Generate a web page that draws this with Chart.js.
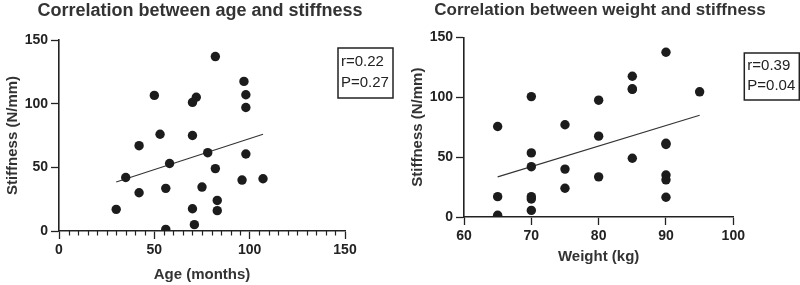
<!DOCTYPE html>
<html>
<head>
<meta charset="utf-8">
<script src="https://cdn.jsdelivr.net/npm/chart.js@4/dist/chart.umd.min.js"></script>
<style>
  html, body { margin: 0; padding: 0; background: #fff; }
  .wrap { display: flex; width: 800px; height: 285px; }
  .cell { width: 400px; height: 285px; }
</style>
</head>
<body>
<div class="wrap">
  <div class="cell"><canvas id="ageChart" width="400" height="285"></canvas></div>
  <div class="cell"><canvas id="weightChart" width="400" height="285"></canvas></div>
</div>
<script>
// ─── DONNÉES ─────────────────────────────────────────────────────────────
// âge (mois) / raideur (N/mm)
const ageMonths = [30, 35, 42, 42, 50, 53, 58, 56, 56, 70, 72, 70, 70, 71, 75, 78, 82, 82, 83, 83, 97, 98, 98, 98, 96, 107];
const ageStiff  = [17, 42, 67, 30, 106.5, 76, 53, 33.5, 1.3, 101, 105, 75, 17.5, 5, 34.5, 61.5, 137, 49, 24, 16, 117.5, 107, 97, 60.5, 40, 41];
const ageFitX   = [30, 107];
const ageFitY   = [38.5, 76];

// poids (kg) / raideur (N/mm)
const weightKg    = [65, 65, 65, 70, 70, 70, 70, 70, 70, 75, 75, 75, 80, 80, 80, 85, 85, 85, 85, 90, 90, 90, 90, 90, 90, 95];
const weightStiff = [75.5, 17, 1.5, 100.5, 53.5, 42, 17, 15, 5.5, 77, 40, 24, 97.5, 67.5, 33.5, 117.5, 107, 106.5, 49, 137.5, 61.5, 60.5, 35, 31, 16.5, 104.5];
const weightFitX  = [65, 95];
const weightFitY  = [33.5, 85];

const stiffTicks  = [0, 50, 100, 150];
const ageTicks    = [0, 50, 100, 150];
const weightTicks = [60, 70, 80, 90, 100];

const ageStats    = ['r=0.22', 'P=0.27'];
const weightStats = ['r=0.39', 'P=0.04'];

// ─── STYLE ───────────────────────────────────────────────────────────────
const INK = '#222';
const FONT = "'Liberation Sans', Arial, Helvetica, sans-serif";
Chart.defaults.font.family = FONT;
Chart.defaults.color = INK;

const pts = (xs, ys) => xs.map((x, i) => ({ x, y: ys[i] }));

// petites graduations (axe des âges)
const minorTicks = {
    id: 'minorTicks',
    afterDraw(chart, args, opts) {
        if (!opts.step) return;
        const sx = chart.scales.x, c = chart.ctx;
        const y0 = chart.chartArea.bottom;
        c.save();
        c.strokeStyle = INK;
        c.lineWidth = 1.2;
        for (let v = sx.min; v <= sx.max; v += opts.step) {
            if (v % opts.major === 0) continue;
            const px = Math.round(sx.getPixelForValue(v)) + 0.5;
            c.beginPath();
            c.moveTo(px, y0);
            c.lineTo(px, y0 + 4.5);
            c.stroke();
        }
        c.restore();
    }
};

// encadré r / P
const statsBox = {
    id: 'statsBox',
    afterDraw(chart, args, opts) {
        if (!opts.lines) return;
        const c = chart.ctx, ca = chart.chartArea;
        const x = ca.right + opts.dx, y = opts.y;
        c.save();
        c.strokeStyle = INK;
        c.lineWidth = 1.5;
        c.strokeRect(x, y, opts.w, opts.h);
        c.fillStyle = INK;
        c.font = '15px ' + FONT;
        c.textBaseline = 'middle';
        opts.lines.forEach((t, i) => c.fillText(t, x + 3, y + opts.h * (i === 0 ? 0.28 : 0.7)));
        c.restore();
    }
};

function makeChart(id, cfg) {
    return new Chart(document.getElementById(id), {
        type: 'scatter',
        data: {
            datasets: [{
                data: pts(cfg.xs, cfg.ys),
                backgroundColor: '#1c1c1c',
                borderWidth: 0,
                pointRadius: 4.7,
                pointHoverRadius: 4.7
            }, {
                type: 'line',
                data: pts(cfg.fitX, cfg.fitY),
                borderColor: '#333',
                borderWidth: 1.1,
                pointRadius: 0,
                fill: false
            }]
        },
        options: {
            responsive: false,
            animation: false,
            layout: { padding: 0 },
            scales: {
                x: {
                    type: 'linear',
                    min: cfg.xTicks[0], max: cfg.xTicks[cfg.xTicks.length - 1],
                    afterBuildTicks: s => { s.ticks = cfg.xTicks.map(v => ({ value: v })); },
                    afterFit: s => { s.height = cfg.xHeight; },
                    grid: { display: true, drawOnChartArea: false, tickLength: 8, tickColor: INK, tickWidth: 1.3 },
                    border: { display: true, color: INK, width: 1.6 },
                    ticks: { color: INK, padding: 3, font: { size: 14, weight: 'bold' } },
                    title: {
                        display: true, text: cfg.xTitle, color: '#333',
                        font: { size: 15, weight: 'bold' },
                        padding: { top: 0, bottom: cfg.xTitlePad }
                    }
                },
                y: {
                    type: 'linear',
                    min: 0, max: 150,
                    afterBuildTicks: s => { s.ticks = stiffTicks.map(v => ({ value: v })); },
                    afterFit: s => { s.width = cfg.yWidth; },
                    grid: { display: true, drawOnChartArea: false, tickLength: 8, tickColor: INK, tickWidth: 1.3 },
                    border: { display: true, color: INK, width: 1.6 },
                    ticks: { color: INK, padding: 3, font: { size: 14, weight: 'bold' } },
                    title: {
                        display: true, text: 'Stiffness (N/mm)', color: '#333',
                        font: { size: 15, weight: 'bold' },
                        padding: { top: cfg.yTitlePad, bottom: 0 }
                    }
                },
                // axe vide à droite : réserve la place de l'encadré sans décentrer le titre
                spacer: {
                    type: 'linear',
                    position: 'right',
                    display: true,
                    afterFit: s => { s.width = cfg.padRight; },
                    grid: { display: false },
                    border: { display: false },
                    ticks: { display: false }
                }
            },
            plugins: {
                legend: { display: false },
                tooltip: { enabled: false },
                title: {
                    display: true, text: cfg.title, color: '#333',
                    font: { size: cfg.titleSize, weight: 'bold' },
                    padding: { top: 0, bottom: cfg.titlePad }
                },
                minorTicks: { step: cfg.minorStep, major: 50 },
                statsBox: cfg.box
            }
        },
        plugins: [minorTicks, statsBox]
    });
}

makeChart('ageChart', {
    xs: ageMonths, ys: ageStiff, fitX: ageFitX, fitY: ageFitY,
    xTicks: ageTicks, xTitle: 'Age (months)',
    title: 'Correlation between age and stiffness',
    titleSize: 18, titlePad: 18.4,
    padRight: 55, xHeight: 54, yWidth: 59,
    xTitlePad: 1, yTitlePad: 4, minorStep: 5,
    box: { lines: ageStats, dx: -7, y: 48, w: 55, h: 50 }
});

makeChart('weightChart', {
    xs: weightKg, ys: weightStiff, fitX: weightFitX, fitY: weightFitY,
    xTicks: weightTicks, xTitle: 'Weight (kg)',
    title: 'Correlation between weight and stiffness',
    titleSize: 17, titlePad: 16.9,
    padRight: 66.7, xHeight: 68, yWidth: 64,
    xTitlePad: 19, yTitlePad: 9, minorStep: 0,
    box: { lines: weightStats, dx: 11, y: 53, w: 55, h: 47 }
});
</script>
</body>
</html>
